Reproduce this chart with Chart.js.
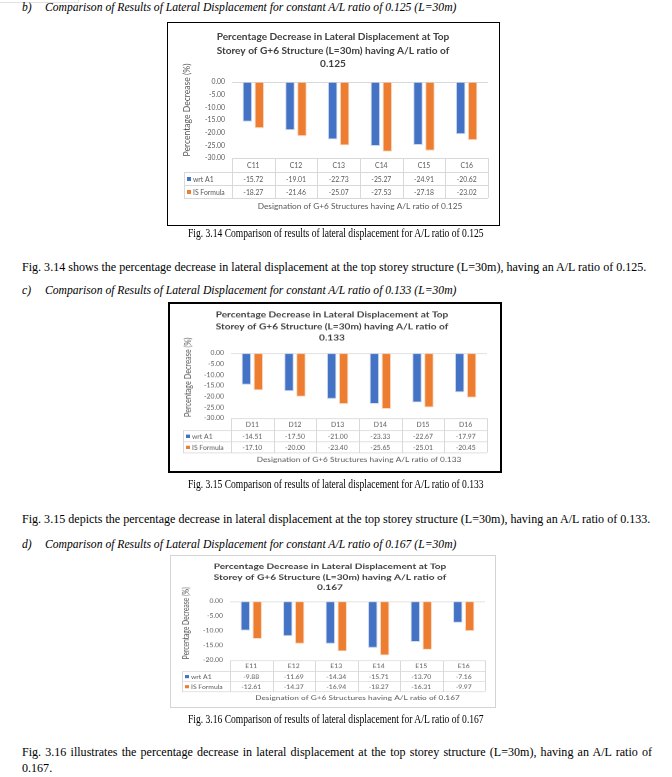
<!DOCTYPE html>
<html><head><meta charset="utf-8">
<script src="https://cdn.jsdelivr.net/npm/chart.js@4.4.0/dist/chart.umd.min.js"></script>
<style>
html,body{margin:0;padding:0;background:#fff;}
body{width:672px;height:777px;position:relative;overflow:hidden;font-family:"Liberation Serif","Times New Roman",serif;color:#000;}
.t{position:absolute;white-space:nowrap;font-size:11px;line-height:12px;}
.h{font-style:italic;}
.cap{left:0;width:672px;text-align:center;}
.cap span{display:inline-block;transform-origin:50% 50%;}
.cw{position:absolute;overflow:visible;}
.cw canvas{position:absolute;left:0;top:0;transform-origin:0 0;}
.bd{position:absolute;box-sizing:border-box;left:0;top:0;}
.p{left:22px;line-height:16px;}
.pj{width:630px;white-space:normal;text-align:justify;text-align-last:left;}
</style></head><body>

<div class="bd" style="left:-1px;top:-10px;width:80px;height:13px;border:1px solid #e2e2e2;"></div>

<div class="t h" style="left:22px;top:2px;">b)</div>
<div class="t h" style="left:45px;top:2px;" id="h1"></div>
<div class="cw" id="w1"><canvas id="c1"></canvas><div class="bd" id="b1"></div></div>
<div class="t cap" style="top:227px;"><span id="cap1"></span></div>
<div class="t p" style="top:259px;" id="p1"></div>

<div class="t h" style="left:22px;top:285px;">c)</div>
<div class="t h" style="left:45px;top:285px;" id="h2"></div>
<div class="cw" id="w2"><canvas id="c2"></canvas><div class="bd" id="b2"></div></div>
<div class="t cap" style="top:478px;"><span id="cap2"></span></div>
<div class="t p" style="top:511px;" id="p2"></div>

<div class="t h" style="left:22px;top:539px;">d)</div>
<div class="t h" style="left:45px;top:539px;" id="h3"></div>
<div class="cw" id="w3"><canvas id="c3"></canvas><div class="bd" id="b3"></div></div>
<div class="t cap" style="top:713px;"><span id="cap3"></span></div>
<div class="t p pj" style="top:744px;" id="p3"></div>

<script>
// ---------- DATA ----------
const seriesNames = ['wrt A1', 'IS Formula'];

const catsC = ['C11','C12','C13','C14','C15','C16'];
const wrtA1C = [-15.72, -19.01, -22.73, -25.27, -24.91, -20.62];
const isFormulaC = [-18.27, -21.46, -25.07, -27.53, -27.18, -23.02];
const yTicksC = [0, -5, -10, -15, -20, -25, -30];

const catsD = ['D11','D12','D13','D14','D15','D16'];
const wrtA1D = [-14.51, -17.50, -21.00, -23.33, -22.67, -17.97];
const isFormulaD = [-17.10, -20.00, -23.40, -25.65, -25.01, -20.45];
const yTicksD = [0, -5, -10, -15, -20, -25, -30];

const catsE = ['E11','E12','E13','E14','E15','E16'];
const wrtA1E = [-9.88, -11.69, -14.34, -15.71, -13.70, -7.16];
const isFormulaE = [-12.61, -14.37, -16.94, -18.27, -16.31, -9.97];
const yTicksE = [0, -5, -10, -15, -20];

const ratios = ['0.125', '0.133', '0.167'];
const figNos = ['3.14', '3.15', '3.16'];
const verbs = ['shows', 'depicts', 'illustrates'];

// ---------- TEXT ----------
ratios.forEach((r, i) => {
  document.getElementById('h' + (i+1)).textContent =
    'Comparison of Results of Lateral Displacement for constant A/L ratio of ' + r + ' (L=30m)';
  document.getElementById('cap' + (i+1)).textContent =
    'Fig. ' + figNos[i] + ' Comparison of results of lateral displacement for A/L ratio of ' + r;
  document.getElementById('p' + (i+1)).textContent =
    'Fig. ' + figNos[i] + ' ' + verbs[i] + ' the percentage decrease in lateral displacement at the top storey structure (L=30m), having an A/L ratio of ' + r + '.';
});

const mctx = document.createElement('canvas').getContext('2d');
function fitF(text, font, target) {
  mctx.font = font.replace('SZ', '20px');
  return 20 * target / mctx.measureText(text).width;
}
const SERIF = '"Liberation Serif", serif';
const headSize = fitF(document.getElementById('h1').textContent, 'italic SZ ' + SERIF, 412);
const parSize = fitF(document.getElementById('p1').textContent, 'SZ ' + SERIF, 626);
document.querySelectorAll('.h').forEach(e => e.style.fontSize = headSize + 'px');
document.querySelectorAll('.p').forEach(e => e.style.fontSize = parSize + 'px');
const capFont = parSize * 0.95;
const capScale = fitF(document.getElementById('cap1').textContent, 'SZ ' + SERIF, 297) / capFont;
document.querySelectorAll('.cap').forEach(e => { e.style.fontSize = capFont + 'px'; e.style.lineHeight = '12px'; });
document.querySelectorAll('.cap span').forEach(e => e.style.transform = 'scaleX(' + capScale + ')');

// ---------- STYLE ----------
const BLUE = '#4472C4', ORANGE = '#ED7D31', TXT = '#595959', TTL = '#404040', GRID = '#d9d9d9';
const FAM = 'Lato, "Open Sans", sans-serif';
function fit(text, weight, target) {
  mctx.font = weight + ' 20px ' + FAM;
  return 20 * target / mctx.measureText(text).width;
}
const tickSize = fit('-30.00', 'normal', 20);
const titleSize = fit('Percentage Decrease in Lateral Displacement at Top', 'bold', 233);
const xtSize = fit('Designation of G+6 Structures having A/L ratio of 0.125', 'normal', 205);
const ytSize = fit('Percentage Decrease (%)', 'normal', 93);

const V = {top: 60, bottom: 136, r1: 150, r2: 163, r3: 176, xty: 184, titleY: [14.5, 28.5, 42], yty: 88};

function tablePlugin(cfg) {
  const g = cfg.geom;
  return {
    id: 'dataTable',
    afterDraw(chart) {
      const ctx = chart.ctx, a = chart.chartArea, x = chart.scales.x;
      const n = cfg.cats.length;
      const half = (x.getPixelForValue(1) - x.getPixelForValue(0)) / 2;
      const rows = [a.bottom, V.r1, V.r2, V.r3];
      ctx.save();
      ctx.strokeStyle = GRID; ctx.lineWidth = 1;
      ctx.beginPath();
      ctx.moveTo(a.left, rows[0] + .5); ctx.lineTo(a.right, rows[0] + .5);
      for (let i = 1; i < 4; i++) { ctx.moveTo(g.leg, rows[i] + .5); ctx.lineTo(a.right, rows[i] + .5); }
      for (let i = 0; i <= n; i++) {
        const xx = Math.round(i < n ? x.getPixelForValue(i) - half : x.getPixelForValue(n - 1) + half) + .5;
        ctx.moveTo(xx, rows[0]); ctx.lineTo(xx, rows[3]);
      }
      ctx.moveTo(g.leg + .5, rows[1]); ctx.lineTo(g.leg + .5, rows[3]);
      ctx.stroke();

      ctx.fillStyle = TXT; ctx.textAlign = 'center'; ctx.textBaseline = 'middle';
      ctx.font = tickSize + 'px ' + FAM;
      cfg.cats.forEach((c, i) => {
        const cx = x.getPixelForValue(i);
        ctx.fillText(c, cx, (rows[0] + rows[1]) / 2 + 1);
        ctx.fillText(cfg.s1[i].toFixed(2), cx, (rows[1] + rows[2]) / 2 + 1);
        ctx.fillText(cfg.s2[i].toFixed(2), cx, (rows[2] + rows[3]) / 2 + 1);
      });
      ctx.textAlign = 'left';
      [[BLUE, seriesNames[0], (rows[1] + rows[2]) / 2], [ORANGE, seriesNames[1], (rows[2] + rows[3]) / 2]].forEach(([col, name, cy]) => {
        ctx.fillStyle = col; ctx.fillRect(g.leg + 3, cy - 1.5, 4, 4);
        ctx.fillStyle = TXT; ctx.fillText(name, g.leg + 9, cy + 1);
      });
      ctx.textAlign = 'center';
      ctx.font = xtSize + 'px ' + FAM;
      ctx.fillText(cfg.xTitle, (a.left + a.right) / 2, V.xty);
      ctx.save();
      ctx.translate(g.ytx, V.yty); ctx.rotate(-Math.PI / 2);
      ctx.font = ytSize + 'px ' + FAM;
      ctx.fillText('Percentage Decrease (%)', 0, 0);
      ctx.restore();
      ctx.fillStyle = TTL; ctx.font = 'bold ' + titleSize + 'px ' + FAM;
      cfg.title.forEach((l, i) => ctx.fillText(l, g.tcx, V.titleY[i]));
      ctx.restore();
    }
  };
}

function makeChart(n, cfg) {
  const g = cfg.geom;
  const cv = document.getElementById('c' + n);
  const w = document.getElementById('w' + n);
  const b = document.getElementById('b' + n);
  cv.width = g.w; cv.height = g.h;
  cv.style.width = g.w + 'px'; cv.style.height = g.h + 'px';
  cv.style.transform = 'scaleY(' + g.sy + ')';
  const boxH = Math.round(g.h * g.sy);
  w.style.left = g.x + 'px'; w.style.top = g.y + 'px';
  w.style.width = g.w + 'px'; w.style.height = boxH + 'px';
  b.style.width = g.w + 'px'; b.style.height = boxH + 'px'; b.style.border = g.border;
  new Chart(cv, {
    type: 'bar',
    data: {
      labels: cfg.cats,
      datasets: [
        {label: seriesNames[0], data: cfg.s1, backgroundColor: BLUE, borderColor: 'rgba(200,212,235,0.9)', borderWidth: {left: 1, right: 1, bottom: 1, top: 0}, borderSkipped: false, categoryPercentage: 0.56, barPercentage: 0.8},
        {label: seriesNames[1], data: cfg.s2, backgroundColor: ORANGE, borderColor: 'rgba(248,214,190,0.9)', borderWidth: {left: 1, right: 1, bottom: 1, top: 0}, borderSkipped: false, categoryPercentage: 0.56, barPercentage: 0.8}
      ]
    },
    options: {
      responsive: false, animation: false, devicePixelRatio: 1,
      layout: {padding: {left: 0, top: V.top, right: g.w - g.right, bottom: g.h - V.bottom}},
      plugins: {legend: {display: false}, title: {display: false}, tooltip: {enabled: false}},
      scales: {
        x: {display: false},
        y: {
          min: Math.min(...cfg.ticks), max: Math.max(...cfg.ticks),
          afterBuildTicks: s => { s.ticks = cfg.ticks.map(v => ({value: v})); },
          afterFit: s => { s.width = g.left; },
          ticks: {autoSkip: false, padding: 7, color: TXT, font: {family: FAM, size: tickSize}, callback: v => Number(v).toFixed(2)},
          grid: {drawTicks: false, lineWidth: 1, color: c => (c.tick && c.tick.value === 0) ? GRID : 'rgba(0,0,0,0)'},
          border: {display: false}
        }
      }
    },
    plugins: [tablePlugin(cfg)]
  });
}

function titleFor(r) {
  return ['Percentage Decrease in Lateral Displacement at Top', 'Storey of G+6 Structure (L=30m) having A/L ratio of', r];
}

makeChart(1, {cats: catsC, s1: wrtA1C, s2: isFormulaC, ticks: yTicksC, title: titleFor(ratios[0]),
  xTitle: 'Designation of G+6 Structures having A/L ratio of ' + ratios[0],
  geom: {x: 167, y: 22, w: 333, h: 204, sy: 1, left: 65, right: 321, leg: 17, ytx: 20, tcx: 166, border: '1px solid #000'}});
makeChart(2, {cats: catsD, s1: wrtA1D, s2: isFormulaD, ticks: yTicksD, title: titleFor(ratios[1]),
  xTitle: 'Designation of G+6 Structures having A/L ratio of ' + ratios[1],
  geom: {x: 168, y: 302, w: 334, h: 200, sy: 0.855, left: 63, right: 319, leg: 15, ytx: 20, tcx: 164, border: '2px solid #000'}});
makeChart(3, {cats: catsE, s1: wrtA1E, s2: isFormulaE, ticks: yTicksE, title: titleFor(ratios[2]),
  xTitle: 'Designation of G+6 Structures having A/L ratio of ' + ratios[2],
  geom: {x: 170, y: 555, w: 326, h: 198, sy: 0.775, left: 60, right: 315, leg: 12, ytx: 16, tcx: 160, border: '1px solid #d4d4d4'}});
</script>
</body></html>
